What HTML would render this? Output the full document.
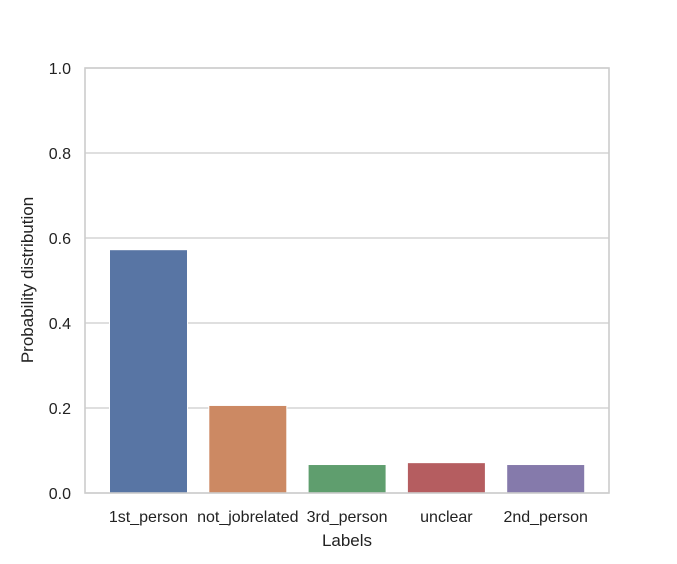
<!DOCTYPE html>
<html><head><meta charset="utf-8"><style>
body{margin:0;background:#fff;}
svg{display:block;font-family:"Liberation Sans","DejaVu Sans",sans-serif;}
</style></head><body>
<svg id="chart" width="677" height="564" viewBox="0 0 677 564"></svg>
<script>
const categories=["1st_person","not_jobrelated","3rd_person","unclear","2nd_person"];
const values=[0.5725,0.206,0.067,0.0714,0.067];
const colors=["#5875a4","#cc8963","#5f9e6e","#b55d60","#857aab"];
const yTicks=[0,0.2,0.4,0.6,0.8,1.0];
const yTickLabels=["0.0","0.2","0.4","0.6","0.8","1.0"];
const L=85,R=609,T=68,B=493;
const y=v=>B-(B-T)*v;
const x=i=>148.5+99.3*i;
const bw=78;
const svg=document.getElementById('chart');
const NS="http://www.w3.org/2000/svg";
function mk(tag,attrs,parent){const e=document.createElementNS(NS,tag);for(const k in attrs)e.setAttribute(k,attrs[k]);(parent||svg).appendChild(e);return e;}
yTicks.forEach((t,i)=>{
 const g=mk('line',{x1:L,x2:R,y1:y(t),y2:y(t),stroke:'#cccccc','stroke-width':1.2});
 
 
 const tx=mk('text',{x:L-14,y:y(t)+6,'text-anchor':'end','font-size':16,fill:'#222'});
 tx.textContent=yTickLabels[i];
 
 
});
categories.forEach((c,i)=>{
 const r=mk('rect',{x:x(i)-bw/2,y:y(values[i]),width:bw,height:y(0)-y(values[i]),fill:colors[i],stroke:'#fff','stroke-width':1});
 
 
 const tx=mk('text',{x:x(i),y:522,'text-anchor':'middle','font-size':16,fill:'#222'});
 tx.textContent=c;
 
 
});
const f=mk('rect',{x:L,y:T,width:R-L,height:B-T,fill:'none',stroke:'#cccccc','stroke-width':1.6});


const xt=mk('text',{x:(L+R)/2,y:546,'text-anchor':'middle','font-size':17,fill:'#222'});
xt.textContent='Labels';


const yt=mk('text',{x:0,y:0,'text-anchor':'middle','font-size':17,fill:'#222',transform:'translate(33,280) rotate(-90)'});
yt.textContent='Probability distribution';


</script>
</body></html>
